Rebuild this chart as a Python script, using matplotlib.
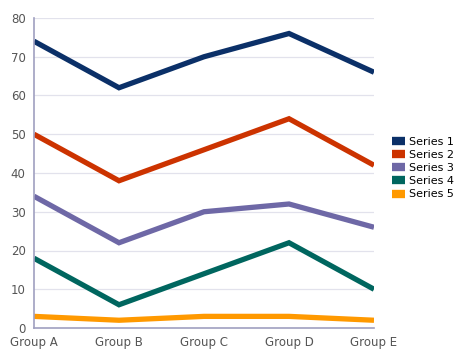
import matplotlib
matplotlib.use("Agg")
import matplotlib.pyplot as plt

categories = ["Group A", "Group B", "Group C", "Group D", "Group E"]
series_names = ["Series 1", "Series 2", "Series 3", "Series 4", "Series 5"]
s1 = [74, 62, 70, 76, 66]
s2 = [50, 38, 46, 54, 42]
s3 = [34, 22, 30, 32, 26]
s4 = [18, 6, 14, 22, 10]
s5 = [3, 2, 3, 3, 2]
colors = ["#0b3068", "#cc3300", "#6e68a6", "#00665f", "#ff9900"]
yticks = [0, 10, 20, 30, 40, 50, 60, 70, 80]

fig = plt.figure(figsize=(4.54, 3.52), dpi=100)
ax = fig.add_axes([34/454, 1-328/352, 340/454, 310/352])

x = list(range(len(categories)))
for name, vals, c in zip(series_names, [s1, s2, s3, s4, s5], colors):
    ax.plot(x, vals, color=c, lw=3.8, label=name, solid_capstyle="butt", solid_joinstyle="miter")

ax.set_xlim(0, len(categories)-1)
ax.set_ylim(0, 80)
ax.set_xticks(x)
ax.set_xticklabels(categories)
ax.set_yticks(yticks)
ax.tick_params(length=0, colors="#555555", labelsize=8.5)
ax.tick_params(axis="y", pad=6)
ax.tick_params(axis="x", pad=6)
ax.grid(axis="y", color="#e2e2ec", lw=0.9)
ax.set_axisbelow(True)
for s in ["top", "right"]:
    ax.spines[s].set_visible(False)
for s in ["left", "bottom"]:
    ax.spines[s].set_color("#a0a0c0")
    ax.spines[s].set_linewidth(1.2)

leg = fig.legend(loc="center left", bbox_to_anchor=(388/454, 1-168/352), frameon=False,
                 fontsize=8, handlelength=1.1, handleheight=0.6, handletextpad=0.4,
                 labelspacing=0.28, borderaxespad=0)
for h in leg.legend_handles:
    h.set_linewidth(6)
fig.savefig("out.png", dpi=100)
